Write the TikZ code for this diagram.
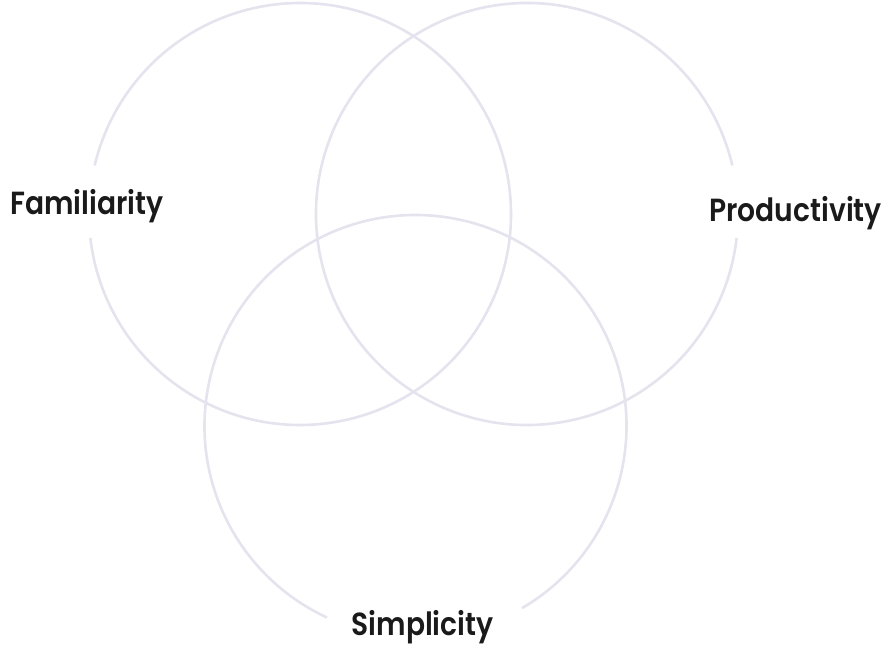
\documentclass[tikz,border=0pt]{standalone}
\usepackage{fontspec}
\setmainfont{Poppins}[UprightFont=* SemiBold,FakeStretch=0.88]
\definecolor{ringcol}{RGB}{228,227,238}
\definecolor{labelcol}{RGB}{26,26,26}
\begin{document}
\begin{tikzpicture}[x=1pt,y=1pt,
  ring/.style={draw=ringcol,line width=2.6pt},
  lbl/.style={text=labelcol,font=\fontsize{32}{36}\selectfont,inner sep=0pt}]
\useasboundingbox (0,0) rectangle (883,654);
% left circle (Familiarity)
\draw[ring] (300,440) ++(186.5:211) arc[start angle=186.5,end angle=526.7,radius=211];
% right circle (Productivity)
\draw[ring] (527,440) ++(13.3:211) arc[start angle=13.3,end angle=353.5,radius=211];
% bottom circle (Simplicity)
\draw[ring] (415.5,228) ++(300.3:211) arc[start angle=300.3,end angle=605.2,radius=211];
\node[lbl,anchor=base west] (fam) at (10,439) {Familiarity};
\node[lbl,anchor=base east] (prod) at (882,432) {Productivity};
\node[lbl,anchor=base] (simp) at (422.5,19) {Simplicity};
\end{tikzpicture}
\end{document}
